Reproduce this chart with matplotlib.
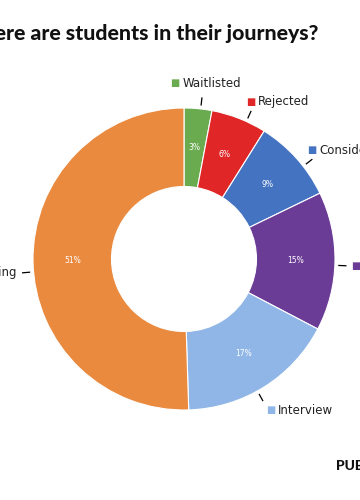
import numpy as np
import matplotlib
matplotlib.use("Agg")
import matplotlib.pyplot as plt
from matplotlib.offsetbox import TextArea, HPacker, AnnotationBbox

# data (clockwise from top)
stages = ["Waitlisted", "Rejected", "Considering", "Accepted", "Interview", "Researching"]
shares = [3, 6, 9, 15, 17, 51]
colors = ["#6aab50", "#e02626", "#4473c2", "#6b3c96", "#8fb6e6", "#ea8a3f"]

# small angle tweaks (deg) so the callouts sit like in the original layout
nudge = [-1, -3, -4, -1.5, -3, 4]

W, H = 360, 500
fig = plt.figure(figsize=(W / 100, H / 100), dpi=100)
ax = fig.add_axes([0, 0, 1, 1])

cx, cy, R = 184, H - 259, 151
wedges, _ = ax.pie(shares, colors=colors, startangle=90, counterclock=False,
                   center=(cx, cy), radius=R,
                   wedgeprops=dict(width=R * 0.52, edgecolor="white", linewidth=0.8))
ax.set_xlim(0, W)
ax.set_ylim(0, H)
ax.set_aspect("equal")
ax.axis("off")

for w, name, col, v, dn in zip(wedges, stages, colors, shares, nudge):
    mid = np.deg2rad((w.theta1 + w.theta2) / 2)
    ax.text(cx + 0.74 * R * np.cos(mid), cy + 0.74 * R * np.sin(mid), f"{v}%",
            color="white", fontsize=5.5, ha="center", va="center")
    ang = mid + np.deg2rad(dn)
    c, s = np.cos(ang), np.sin(ang)
    ex, ey = cx + (R + 11) * c, cy + (R + 11) * s
    ax.plot([cx + (R + 4) * c, ex], [cy + (R + 4) * s, ey], color="black", lw=0.9)
    box = HPacker(children=[TextArea("■", textprops=dict(color=col, fontsize=7)),
                            TextArea(name, textprops=dict(color="#222222", fontsize=8.5))],
                  pad=0, sep=2, align="center")
    # callout placement relative to the end of the leader line
    if abs(c) < 0.2:
        align, pos = (0.5, 0.0), (ex + 4, ey + 8)
    elif c > 0 and s > 0.3:
        align, pos = (0.0, 0.0), (ex - 5, ey + 3)
    elif c > 0 and s < -0.3:
        align, pos = (0.0, 1.0), (ex + 3, ey - 3)
    elif c > 0:
        align, pos = (0.0, 0.5), (ex + 5, ey)
    else:
        align, pos = (1.0, 0.5), (ex - 5, ey)
    ax.add_artist(AnnotationBbox(box, pos, box_alignment=align, frameon=False, pad=0))

fig.text(318 / W, 1 - 33 / H, "Where are students in their journeys?", ha="right",
         va="center", fontsize=15.3, fontweight="black", family="Lato", color="#111111")
fig.text(336 / W, 1 - 466 / H, "PUBLIC", ha="left", va="center", fontsize=10,
         fontweight="black", family="Lato", color="#111111")

fig.savefig("out.png", dpi=100)
